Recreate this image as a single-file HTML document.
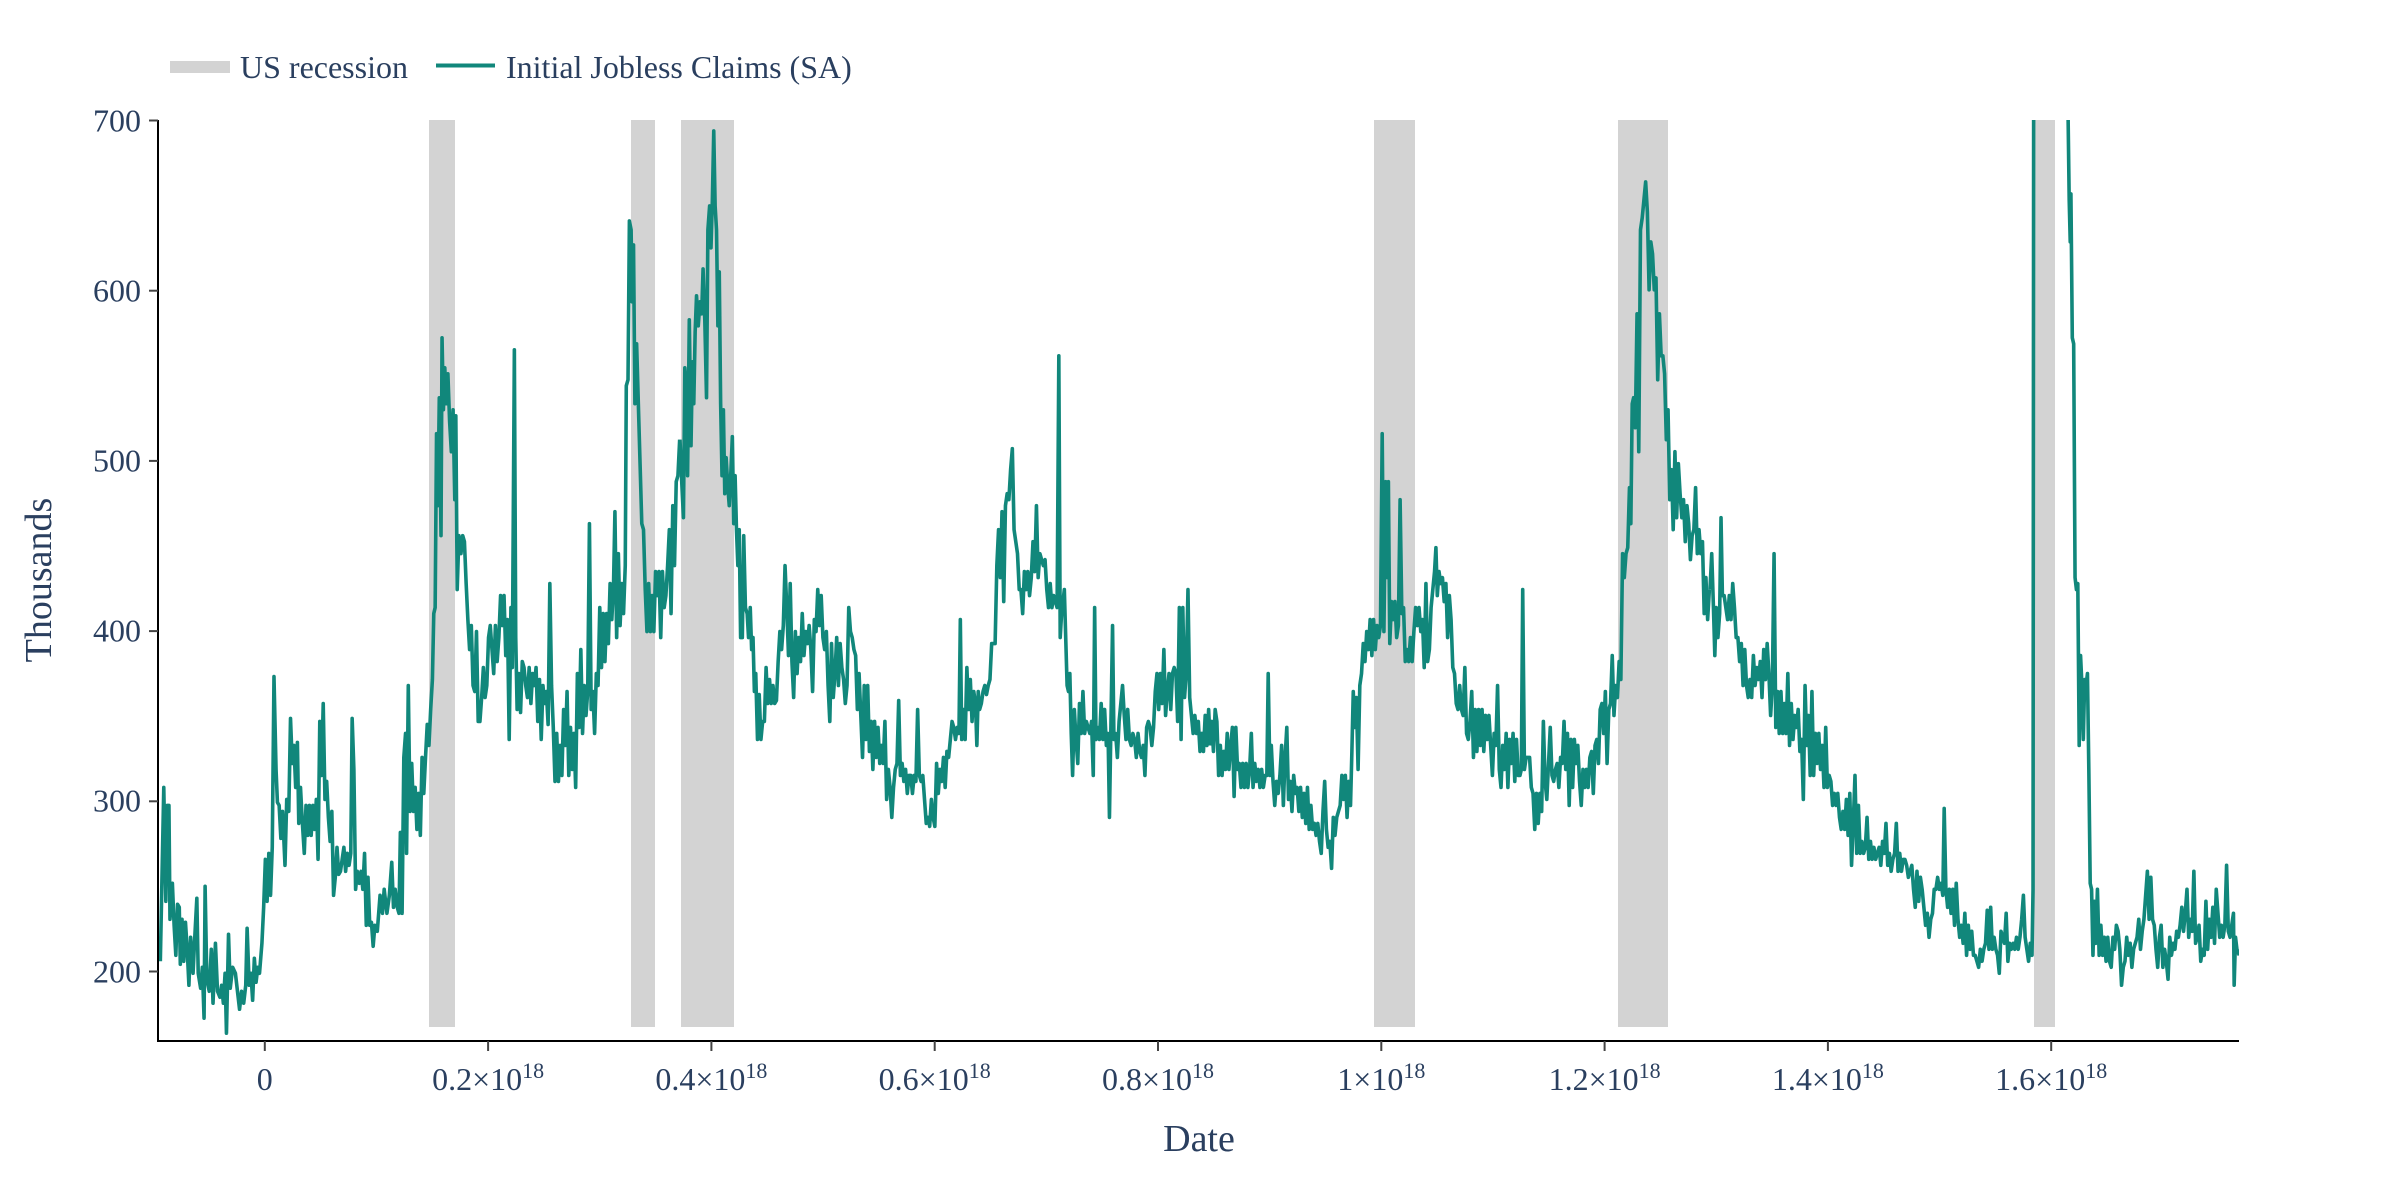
<!DOCTYPE html>
<html>
<head>
<meta charset="utf-8">
<style>
  html, body { margin: 0; padding: 0; background: #ffffff; }
  svg { display: block; }
  text { font-family: "Liberation Serif", "Times New Roman", serif; fill: #2a3f5f; }
</style>
</head>
<body>
<svg width="2400" height="1200" viewBox="0 0 2400 1200" xmlns="http://www.w3.org/2000/svg">
  <rect x="0" y="0" width="2400" height="1200" fill="#ffffff"/>
  <defs>
    <clipPath id="plotclip">
      <rect x="158" y="120" width="2081" height="921"/>
    </clipPath>
  </defs>

  <!-- recession bars -->
  <g fill="#d3d3d3">
    <rect x="429" y="120" width="26" height="907"/>
    <rect x="631" y="120" width="24" height="907"/>
    <rect x="681" y="120" width="53" height="907"/>
    <rect x="1374" y="120" width="41" height="907"/>
    <rect x="1618" y="120" width="50" height="907"/>
    <rect x="2034" y="120" width="21" height="907"/>
  </g>

  <!-- series -->
  <g clip-path="url(#plotclip)" fill="none" stroke="#11877b" stroke-width="3.6" stroke-linejoin="round">
    <g transform="translate(150,110) scale(0.344388,0.599490)">
      <polyline vector-effect="non-scaling-stroke" points="30,1420 40,1130 46,1320 50,1160 55,1160 58,1350 65,1290 70,1360 75,1410 80,1325 85,1330 88,1425 93,1350 98,1420 103,1355 108,1400 113,1460 118,1380 125,1440 130,1380 136,1315 140,1440 147,1465 152,1430 157,1515 160,1295 165,1450 172,1470 178,1400 183,1490 190,1390 196,1470 203,1480 208,1460 213,1490 218,1440 222,1540 228,1375 233,1465 240,1430 248,1440 254,1470 260,1500 266,1470 272,1490 278,1460 282,1365 288,1460 293,1440 298,1485 303,1415 308,1455 313,1430 318,1440 325,1390 330,1330 335,1250 340,1320 345,1240 350,1310 355,1230 360,945 366,1100 370,1155 375,1160 380,1215 385,1170 392,1260 397,1150 403,1170 408,1015 413,1090 418,1060 423,1130 428,1055 432,1190 437,1130 442,1185 448,1240 453,1160 458,1210 463,1160 468,1210 473,1160 478,1200 483,1150 488,1250 493,1020 498,1110 503,990 508,1150 513,1120 518,1180 523,1220 528,1170 533,1310 538,1280 543,1230 548,1275 553,1270 558,1250 563,1230 568,1270 573,1240 578,1260 583,1240 587,1015 592,1100 597,1300 602,1270 608,1290 613,1270 618,1300 623,1240 628,1360 633,1280 638,1360 643,1355 648,1395 653,1360 660,1370 668,1310 675,1340 680,1300 688,1340 695,1310 702,1255 707,1330 712,1300 718,1330 723,1340 727,1205 732,1340 737,1080 742,1040 745,1240 750,960 755,1170 760,1090 765,1170 770,1130 775,1200 780,1140 785,1210 790,1080 795,1140 800,1080 805,1025 810,1060 815,1000 820,950 824,840 828,830 832,540 836,660 840,480 845,710 848,380 852,500 856,430 860,490 865,440 870,520 875,570 880,500 885,650 888,510 892,800 897,710 903,740 908,710 913,720 918,790 923,850 928,900 933,860 938,960 943,970 948,870 953,1020 958,1020 963,980 968,930 973,980 978,960 983,880 988,860 993,900 998,940 1003,860 1008,920 1013,880 1018,810 1023,860 1028,810 1033,910 1038,850 1043,1050 1048,830 1052,930 1058,400 1062,880 1066,1000 1071,940 1076,1005 1081,920 1086,930 1091,960 1096,980 1101,930 1106,990 1111,940 1116,960 1121,930 1126,1020 1131,950 1136,1050 1141,960 1146,990 1151,970 1156,1025 1161,790 1166,960 1171,1030 1176,1120 1181,1040 1186,1120 1191,1060 1196,1110 1201,1000 1206,1060 1211,970 1216,1110 1221,1030 1226,1100 1231,1040 1236,1130 1241,940 1246,1030 1251,900 1256,1040 1261,960 1266,1010 1271,970 1276,690 1281,1000 1286,970 1291,1040 1296,940 1301,960 1306,830 1311,930 1316,840 1321,920 1326,840 1331,890 1336,790 1341,850 1346,790 1350,670 1355,880 1360,740 1365,860 1370,790 1375,840 1380,760 1383,460 1388,450 1392,185 1397,200 1400,320 1404,225 1408,490 1413,390 1418,490 1423,590 1428,690 1433,700 1438,800 1443,870 1448,790 1453,870 1458,810 1463,870 1468,770 1473,810 1478,770 1483,880 1488,770 1493,830 1498,810 1503,760 1508,700 1513,840 1518,660 1523,760 1528,620 1533,610 1538,550"/>
    </g>
    <g transform="translate(680,110) scale(0.344388,0.599490)">
      <polyline vector-effect="non-scaling-stroke" points="0,550 5,620 10,680 14,430 18,460 22,610 27,350 32,560 36,420 40,490 44,370 48,310 53,360 58,320 63,340 67,265 72,350 77,480 81,200 86,160 90,230 94,150 98,35 102,160 106,200 110,360 114,270 118,490 122,610 126,500 130,640 134,580 139,630 143,660 148,600 152,545 156,690 160,610 164,700 168,760 172,700 176,880 181,880 185,710 190,830 195,840 199,880 204,830 208,900 212,880 216,970 220,940 225,1050 230,975 235,1050 240,1020 245,1020 250,930 255,990 260,950 265,990 270,960 275,990 280,985 285,920 290,870 295,900 300,860 305,760 310,830 315,910 320,790 325,920 330,980 335,870 340,940 345,880 350,920 355,840 360,910 365,870 370,890 375,860 380,900 385,970 390,850 395,870 400,800 405,860 410,810 415,880 420,900 425,870 430,960 435,1020 440,890 445,980 450,940 455,880 460,960 465,890 470,930 475,950 480,990 485,960 490,830 495,870 500,880 505,900 510,910 515,1000 520,940 525,1010 530,1080 535,960 540,1050 545,960 550,1070 555,1020 560,1100 565,1020 570,1080 575,1030 580,1090 585,1060 590,1090 595,1020 600,1150 605,1100 610,1130 615,1180 620,1130 625,1100 630,1090 635,985 640,1110 645,1090 650,1120 655,1100 660,1140 665,1110 670,1110 675,1140 680,1110 685,1120 690,1000 695,1110 700,1120 705,1110 710,1150 715,1190 720,1180 725,1195 730,1150 735,1180 740,1195 745,1090 750,1140 755,1100 760,1120 765,1080 770,1130 775,1070 780,1080 785,1050 790,1020 795,1030 800,1050 805,1030 810,1040 814,850 818,1050 823,1000 828,1050 833,930 838,1000 843,950 848,1020 853,970 858,990 862,1060 866,970 870,1000 875,990 880,970 885,960 890,975 895,960 900,950 905,890 910,890 915,890 920,760 925,700 930,780 935,670 940,820 945,660 950,640 955,650 960,600 965,565 970,700 975,720 980,740 985,800 990,800 995,840 1000,770 1005,800 1010,770 1015,810 1020,780 1025,720 1030,770 1035,660 1040,780 1045,740 1050,750 1055,760 1060,750 1065,800 1070,830 1075,790 1080,830 1085,810 1090,820 1095,830 1100,410 1104,880 1108,840 1112,820 1116,800 1120,880 1124,960 1128,970 1132,940 1136,1040 1140,1110 1145,1000 1150,1050 1155,1090 1160,990 1165,1040 1170,970 1175,1040 1180,1020 1185,1030 1190,1040 1195,1020 1200,1110 1204,830 1208,1050 1213,1030 1218,1050 1223,990 1228,1050 1233,1000 1238,1060 1243,1040 1247,1180 1252,1000 1256,860 1260,1050 1265,1040 1270,1080 1275,1020 1280,990 1285,960 1290,1010 1295,1050 1300,1000 1305,1050 1310,1060 1315,1040 1320,1050 1325,1080 1330,1040 1335,1070 1340,1080 1345,1060 1350,1110 1355,1030 1360,1020 1365,1030 1370,1060 1375,1030 1380,970 1385,940 1390,1000 1395,940 1400,990 1405,900 1410,1010 1415,970 1420,940 1425,1000 1430,940 1435,930 1440,940 1445,1020 1450,830 1455,1050 1460,830 1465,980 1470,940 1475,800 1480,980 1485,1010 1490,1040 1495,1010 1500,1040 1505,1020 1510,1070 1515,1040 1520,1070 1525,1010 1530,1060 1535,1000 1540,1060"/>
    </g>
    <g transform="translate(1210,110) scale(0.344388,0.599490)">
      <polyline vector-effect="non-scaling-stroke" points="0,1060 5,1020 10,1070 15,1000 20,1020 25,1110 30,1060 35,1110 40,1070 45,1100 50,1040 55,1100 60,1060 65,1030 70,1145 75,1030 80,1100 85,1090 90,1130 95,1090 100,1130 105,1090 110,1130 115,1100 120,1040 125,1130 130,1090 135,1120 140,1100 145,1130 150,1100 155,1130 160,1110 165,1110 169,940 174,1110 178,1060 183,1120 188,1160 193,1120 198,1140 203,1110 208,1060 213,1160 218,1080 223,1030 228,1150 233,1120 238,1170 243,1110 248,1140 253,1130 258,1170 263,1130 268,1180 273,1140 278,1190 283,1130 288,1200 293,1160 298,1200 303,1190 308,1210 313,1190 318,1220 323,1240 328,1170 333,1120 338,1200 343,1230 348,1220 353,1265 358,1180 363,1210 368,1180 373,1170 378,1160 383,1110 388,1150 393,1110 398,1180 403,1120 408,1160 412,1070 416,970 420,1030 425,980 430,1100 435,960 440,940 445,890 450,920 455,870 460,900 465,850 470,910 475,850 480,900 485,860 490,880 495,860 500,540 505,870 510,620 515,780 518,620 522,890 527,820 532,850 537,820 542,880 547,860 552,650 557,840 562,830 567,920 572,900 577,920 582,880 587,920 592,870 597,830 602,860 607,830 612,870 617,850 622,930 627,790 632,920 637,900 642,830 647,800 652,770 656,730 660,810 665,770 670,790 675,780 680,820 685,790 690,880 695,810 700,850 705,930 710,940 715,990 720,1000 725,960 730,1000 735,1010 740,930 745,1040 750,1050 755,1020 760,970 765,1080 770,1000 775,1070 780,1000 785,1060 790,1000 795,1070 800,1010 805,1050 810,1010 815,1060 820,1110 825,1040 830,1060 835,960 840,1100 845,1130 850,1060 855,1100 860,1040 865,1130 870,1050 875,1090 880,1040 885,1120 890,1050 895,1110 900,1110 904,1100 908,800 913,1100 918,1080 923,1080 928,1080 933,1130 938,1140 943,1200 948,1140 953,1190 958,1140 963,1170 968,1020 973,1120 978,1150 983,1090 988,1030 993,1110 998,1120 1003,1100 1008,1090 1013,1130 1018,1080 1023,1090 1028,1020 1033,1100 1038,1040 1043,1160 1048,1050 1053,1130 1058,1050 1063,1090 1068,1060 1073,1120 1078,1160 1083,1100 1088,1130 1093,1100 1098,1130 1103,1080 1108,1070 1113,1140 1118,1060 1123,1050 1128,1090 1133,1000 1138,990 1143,1040 1148,970 1153,1090 1158,1000 1163,990 1168,910 1173,1010 1178,960 1183,980 1188,920 1193,950 1198,740 1203,780 1208,740 1213,730 1218,630 1222,690 1226,490 1230,480 1235,530 1240,340 1245,570 1250,200 1255,180 1260,150 1265,120 1270,170 1275,300 1280,220 1285,240 1290,300 1295,280 1300,450 1305,340 1310,410 1315,410 1320,440 1325,550 1330,500 1335,650 1340,600 1345,700 1350,570 1355,680 1360,590 1365,640 1370,680 1375,650 1380,720 1385,660 1390,690 1395,750 1400,710 1405,700 1410,630 1415,740 1420,700 1425,740 1430,720 1435,840 1440,780 1445,850 1450,800"/>
    </g>
    <g transform="translate(1710,110) scale(0.344388,0.599490)">
      <polyline vector-effect="non-scaling-stroke" points="0,800 5,740 10,830 14,910 18,830 23,880 28,840 32,680 36,810 41,810 46,830 51,850 56,810 61,850 66,790 71,830 76,880 81,880 86,920 91,890 96,960 101,900 106,960 111,980 116,950 121,980 126,910 131,960 136,930 141,950 146,920 151,980 156,900 161,950 166,890 171,940 176,1010 181,960 186,740 191,1030 196,970 201,1040 206,970 211,1040 216,990 221,1040 226,940 231,1060 236,990 241,1050 246,1010 251,1030 256,1000 261,1070 266,1050 271,1150 276,960 281,1060 286,1010 291,1110 296,970 301,1110 306,1040 311,1090 316,1040 321,1100 326,1060 331,1130 336,1030 341,1130 346,1110 351,1120 356,1160 361,1140 366,1160 371,1140 376,1180 381,1200 386,1170 391,1200 396,1150 401,1210 406,1140 411,1260 416,1190 421,1110 426,1240 431,1160 436,1240 441,1220 446,1240 451,1230 456,1180 461,1250 466,1220 471,1250 476,1230 481,1250 486,1240 491,1230 496,1260 501,1220 506,1240 511,1190 516,1260 521,1240 526,1270 531,1250 536,1240 541,1190 546,1270 551,1240 556,1270 561,1250 566,1250 571,1260 576,1280 581,1270 586,1260 591,1300 596,1330 601,1270 606,1320 611,1280 616,1300 621,1330 626,1360 631,1340 636,1380 641,1350 646,1340 651,1300 656,1300 661,1280 666,1300 671,1290 676,1310 680,1165 685,1300 690,1330 695,1300 700,1340 705,1300 710,1360 715,1290 720,1350 725,1380 730,1360 735,1390 740,1340 745,1410 750,1360 755,1400 760,1370 765,1410 770,1410 775,1420 780,1430 785,1400 790,1420 795,1400 800,1390 805,1335 810,1400 815,1330 820,1400 825,1380 830,1400 835,1410 840,1440 845,1370 850,1380 855,1390 860,1340 865,1420 870,1390 875,1400 880,1390 885,1400 890,1380 895,1400 900,1380 905,1350 910,1310 915,1380 920,1400 925,1420 930,1390 935,1410 938,1300 940,-200 1037,-200 1040,20 1043,150 1046,220 1048,140 1052,380 1056,390 1060,780 1064,800 1068,790 1072,1060 1076,910 1080,960 1084,1050 1088,950 1092,960 1096,940 1100,1100 1104,1290 1108,1300 1112,1410 1116,1320 1120,1390 1125,1300 1130,1410 1135,1360 1140,1410 1145,1380 1150,1420 1155,1380 1160,1420 1165,1430 1170,1380 1175,1400 1180,1360 1185,1370 1190,1400 1195,1460 1200,1430 1205,1420 1210,1380 1215,1410 1220,1390 1225,1430 1230,1400 1235,1390 1240,1380 1245,1350 1250,1400 1255,1370 1260,1350 1265,1310 1270,1270 1275,1350 1280,1280 1285,1350 1290,1360 1295,1400 1300,1430 1305,1380 1310,1360 1315,1430 1320,1400 1325,1420 1330,1450 1335,1380 1340,1410 1345,1390 1350,1400 1355,1370 1360,1380 1365,1360 1370,1330 1375,1370 1380,1340 1385,1300 1390,1380 1395,1350 1400,1370 1405,1270 1410,1390 1415,1380 1420,1360 1425,1420 1430,1400 1435,1410 1440,1320 1445,1400 1450,1350 1455,1380 1460,1330 1465,1390 1470,1300 1475,1340 1480,1380 1485,1360 1490,1380 1495,1360 1500,1260 1505,1370 1510,1380 1515,1360 1520,1340 1522,1460 1526,1380 1530,1400 1537,1410"/>
    </g>
  </g>

  <!-- axes lines -->
  <g stroke="#000000" stroke-width="2">
    <line x1="158" y1="120" x2="158" y2="1042"/>
    <line x1="157" y1="1041" x2="2239" y2="1041"/>
  </g>

  <!-- y ticks -->
  <g stroke="#444444" stroke-width="2">
    <line x1="149" y1="120.5" x2="158" y2="120.5"/>
    <line x1="149" y1="290.7" x2="158" y2="290.7"/>
    <line x1="149" y1="460.9" x2="158" y2="460.9"/>
    <line x1="149" y1="631.1" x2="158" y2="631.1"/>
    <line x1="149" y1="801.3" x2="158" y2="801.3"/>
    <line x1="149" y1="971.5" x2="158" y2="971.5"/>
  </g>
  <g font-size="32" text-anchor="end">
    <text x="141" y="131.5">700</text>
    <text x="141" y="301.5">600</text>
    <text x="141" y="471.5">500</text>
    <text x="141" y="641.5">400</text>
    <text x="141" y="811.5">300</text>
    <text x="141" y="982.5">200</text>
  </g>

  <!-- x ticks -->
  <g stroke="#444444" stroke-width="2">
    <line x1="264.8" y1="1041" x2="264.8" y2="1051"/>
    <line x1="488.1" y1="1041" x2="488.1" y2="1051"/>
    <line x1="711.4" y1="1041" x2="711.4" y2="1051"/>
    <line x1="934.7" y1="1041" x2="934.7" y2="1051"/>
    <line x1="1158" y1="1041" x2="1158" y2="1051"/>
    <line x1="1381.3" y1="1041" x2="1381.3" y2="1051"/>
    <line x1="1604.6" y1="1041" x2="1604.6" y2="1051"/>
    <line x1="1827.9" y1="1041" x2="1827.9" y2="1051"/>
    <line x1="2051.2" y1="1041" x2="2051.2" y2="1051"/>
  </g>
  <g font-size="32" text-anchor="middle">
    <text x="264.8" y="1090">0</text>
    <text x="488.1" y="1090">0.2×10<tspan font-size="22" dy="-12">18</tspan></text>
    <text x="711.4" y="1090">0.4×10<tspan font-size="22" dy="-12">18</tspan></text>
    <text x="934.7" y="1090">0.6×10<tspan font-size="22" dy="-12">18</tspan></text>
    <text x="1158" y="1090">0.8×10<tspan font-size="22" dy="-12">18</tspan></text>
    <text x="1381.3" y="1090">1×10<tspan font-size="22" dy="-12">18</tspan></text>
    <text x="1604.6" y="1090">1.2×10<tspan font-size="22" dy="-12">18</tspan></text>
    <text x="1827.9" y="1090">1.4×10<tspan font-size="22" dy="-12">18</tspan></text>
    <text x="2051.2" y="1090">1.6×10<tspan font-size="22" dy="-12">18</tspan></text>
  </g>

  <!-- axis titles -->
  <text x="1199" y="1151" font-size="38" text-anchor="middle">Date</text>
  <text transform="translate(51,580) rotate(-90)" font-size="38" text-anchor="middle">Thousands</text>

  <!-- legend -->
  <rect x="170" y="61" width="60" height="12" fill="#d3d3d3"/>
  <text x="240" y="78" font-size="32">US recession</text>
  <line x1="436" y1="65.5" x2="495" y2="65.5" stroke="#11877b" stroke-width="4"/>
  <text x="506" y="78" font-size="32">Initial Jobless Claims (SA)</text>
</svg>
</body>
</html>
